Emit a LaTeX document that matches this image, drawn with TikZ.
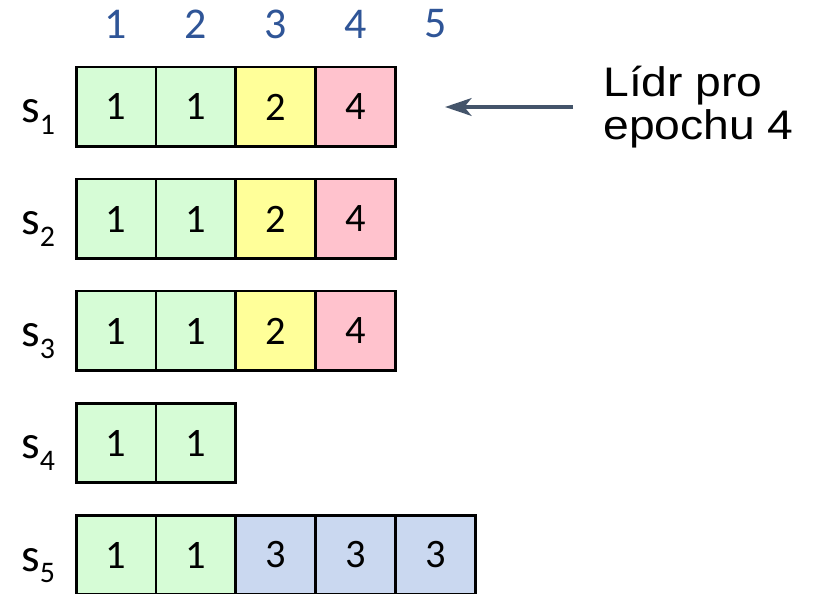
\documentclass[tikz,border=0pt]{standalone}
\usepackage{fontspec}
\setmainfont{Carlito}
\newfontfamily\arialfont{Liberation Sans}
\usetikzlibrary{positioning}
\usetikzlibrary{arrows.meta}
\definecolor{cellgreen}{HTML}{D6FCD6}
\definecolor{cellyellow}{HTML}{FFFF99}
\definecolor{cellpink}{HTML}{FFC2CD}
\definecolor{cellblue}{HTML}{CAD8F0}
\definecolor{numblue}{HTML}{2F5597}
\definecolor{arrowgray}{HTML}{44546A}
\tikzset{
every node/.style={inner sep=0pt}, % Tight nodes, placed by pixel
cell/.style={ % One log entry
draw,
line width=1.7pt,
outer sep=0pt, % Neighbours share one border
minimum size=1.6cm,
font=\fontsize{23}{23}\selectfont},
green cell/.style={cell, fill=cellgreen},
yellow cell/.style={cell, fill=cellyellow},
pink cell/.style={cell, fill=cellpink},
blue cell/.style={cell, fill=cellblue},
colnum/.style={text=numblue, font=\fontsize{25}{25}\selectfont},
server/.style={anchor=base west, font=\fontsize{27}{27}\selectfont},
pointer/.style={ % Arrow to the leader
draw=arrowgray,
line width=2.3pt,
-{Stealth[length=15pt,width=10pt,inset=4pt]}}}
\newcommand{\subidx}[1]{\raisebox{-6.3pt}{\fontsize{17}{17}\selectfont #1}}

\begin{document}
\begin{tikzpicture}[x=0.02cm,y=-0.02cm]
\useasboundingbox (0,0) rectangle (815,594);
% indices
\node[colnum] (c1) at (116,24) {1};
\node[colnum] (c2) at (196,24) {2};
\node[colnum] (c3) at (276,24) {3};
\node[colnum] (c4) at (356,24) {4};
\node[colnum] (c5) at (436,24) {5};
% s1
\node[server] (l1) at (21,123) {s\subidx{1}};
\node[green cell] (s1a) at (116,107) {1};
\node[green cell, right=0pt of s1a] (s1b) {1};
\node[yellow cell, right=0pt of s1b] (s1c) {2};
\node[pink cell, right=0pt of s1c] (s1d) {4};
% s2
\node[server] (l2) at (21,235) {s\subidx{2}};
\node[green cell] (s2a) at (116,219) {1};
\node[green cell, right=0pt of s2a] (s2b) {1};
\node[yellow cell, right=0pt of s2b] (s2c) {2};
\node[pink cell, right=0pt of s2c] (s2d) {4};
% s3
\node[server] (l3) at (21,347) {s\subidx{3}};
\node[green cell] (s3a) at (116,331) {1};
\node[green cell, right=0pt of s3a] (s3b) {1};
\node[yellow cell, right=0pt of s3b] (s3c) {2};
\node[pink cell, right=0pt of s3c] (s3d) {4};
% s4
\node[server] (l4) at (21,459) {s\subidx{4}};
\node[green cell] (s4a) at (116,443) {1};
\node[green cell, right=0pt of s4a] (s4b) {1};
% s5
\node[server] (l5) at (21,571) {s\subidx{5}};
\node[green cell] (s5a) at (116,555) {1};
\node[green cell, right=0pt of s5a] (s5b) {1};
\node[blue cell, right=0pt of s5b] (s5c) {3};
\node[blue cell, right=0pt of s5c] (s5d) {3};
\node[blue cell, right=0pt of s5d] (s5e) {3};
% leader
\node[anchor=west, align=left, xscale=1.12,
font=\arialfont\fontsize{23.5}{24.5}\selectfont] (lider) at (603,107) {Lídr pro\\epochu 4};
\coordinate (tip) at (445,107);
\draw[pointer] ([xshift=-0.6cm]lider.west) -- (tip);
\end{tikzpicture}
\end{document}
